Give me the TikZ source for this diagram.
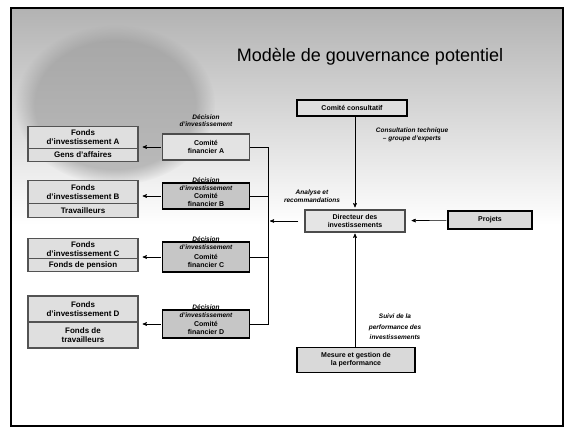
\documentclass[tikz,border=0pt]{standalone}
\usepackage{fontspec}
\setmainfont{Liberation Sans}
\usetikzlibrary{arrows,shapes.multipart,positioning,fadings}
\begin{document}
\begin{tikzpicture}[x=1pt,y=-1pt,->,>=stealth',semithick,
                    font=\fontsize{7}{8}\selectfont\bfseries]
  \tikzstyle{fonds}=[rectangle split,rectangle split parts=2,draw=gray!65!black,fill=gray!25,
                     line width=1.2pt,minimum width=110pt,align=center,inner ysep=2pt,
                     font=\fontsize{8}{9}\selectfont\bfseries]
  \tikzstyle{comite}=[draw=black,fill=gray!45,line width=1.4pt,minimum width=87pt,
                      minimum height=26pt,align=center,inner sep=2pt]
  \tikzstyle{boite}=[draw=black,fill=gray!30,line width=1.2pt,align=center,inner sep=2pt]
  \tikzstyle{lbl}=[font=\fontsize{6.5}{7.5}\selectfont\bfseries\itshape,align=center,inner sep=1pt]

  \useasboundingbox (0,0) rectangle (565,428);
  % fond de la diapositive
  \shade[top color=gray!60,bottom color=white,draw=none] (11,8) rectangle (563,225);
  \fill[gray!80,opacity=0.6,path fading=circle with fuzzy edge 20 percent] (115,105) ellipse (100 and 80);
  \draw[-,line width=1.2pt] (11,8) rectangle (563,426);

  \node[font=\fontsize{18}{20}\selectfont] (titre) at (370,57) {Modèle de gouvernance potentiel};

  \node[fonds,inner ysep=3pt]   (fA) at (83,144) {Fonds\\d'investissement A\nodepart{two}Gens d'affaires};
  \node[fonds,inner ysep=3.5pt] (fB) at (83,199) {Fonds\\d'investissement B\nodepart{two}Travailleurs};
  \node[fonds]                  (fC) at (83,255) {Fonds\\d'investissement C\nodepart{two}Fonds de pension};
  \node[fonds,inner ysep=5pt]   (fD) at (83,322) {Fonds\\d'investissement D\nodepart{two}Fonds de\\travailleurs};

  \node[comite,fill=gray!22,draw=gray!60!black] (cA) at (206,147) {Comité\\financier A};
  \node[comite]                     (cB) at (206,196) {\rule{0pt}{6pt}\\Comité\\financier B};
  \node[comite,minimum height=30pt] (cC) at (206,257) {\rule{0pt}{6pt}\\Comité\\financier C};
  \node[comite,minimum height=28pt] (cD) at (206,324) {\rule{0pt}{6pt}\\Comité\\financier D};

  \node[boite,minimum width=110pt,minimum height=16pt,fill=gray!25] (cc) at (352,108) {Comité consultatif};
  \node[boite,minimum width=100pt,minimum height=22pt,fill=gray!20,draw=gray!60!black] (dir) at (355,221) {Directeur des\\investissements};
  \node[boite,minimum width=84pt,minimum height=18pt] (proj) at (490,220) {Projets};
  \node[boite,minimum width=118pt,minimum height=25pt] (mes) at (356,360) {Mesure et gestion de\\la performance};

  \coordinate (bus) at (268,0);

  % etiquettes
  \node[lbl,anchor=south] (dA) at ([yshift=5pt]cA.north)  {Décision\\d'investissement};
  \node[lbl,anchor=south] (dB) at ([yshift=-9.5pt]cB.north) {Décision\\d'investissement};
  \node[lbl,anchor=south] (dC) at ([yshift=-9.5pt]cC.north) {Décision\\d'investissement};
  \node[lbl,anchor=south] (dD) at ([yshift=-9.5pt]cD.north) {Décision\\d'investissement};
  \node[lbl] (consult) at (412,135) {Consultation technique\\– groupe d'experts};
  \node[lbl] (analyse) at (312,196) {Analyse et\\recommandations};
  \node[lbl,font=\fontsize{6.5}{10.5}\selectfont\bfseries\itshape] (suivi) at (395,327) {Suivi de la\\performance des\\investissements};

  \path (cA.west) edge [shorten >=4pt,shorten <=1pt] (cA.west -| fA.east)
        (cB.west) edge [shorten >=4pt,shorten <=1pt] (cB.west -| fB.east)
        (cC.west) edge [shorten >=4pt,shorten <=1pt] (cC.west -| fC.east)
        (cD.west) edge [shorten >=4pt,shorten <=1pt] (cD.west -| fD.east)
        (proj)    edge [shorten >=6pt,shorten <=1pt] (dir)
        (dir.west) edge [shorten >=2pt,shorten <=6pt] (dir.west -| bus)
        (cc.south -| dir.north) edge [shorten >=2pt] (dir.north)
        (mes.north -| dir.south) edge [shorten >=1pt] (dir.south);
  \draw[-] (cA.east) -- (cA.east -| bus) -- (cD.east -| bus) -- (cD.east);
  \draw[-] (cB.east) -- (cB.east -| bus);
  \draw[-] (cC.east) -- (cC.east -| bus);
\end{tikzpicture}
\end{document}
